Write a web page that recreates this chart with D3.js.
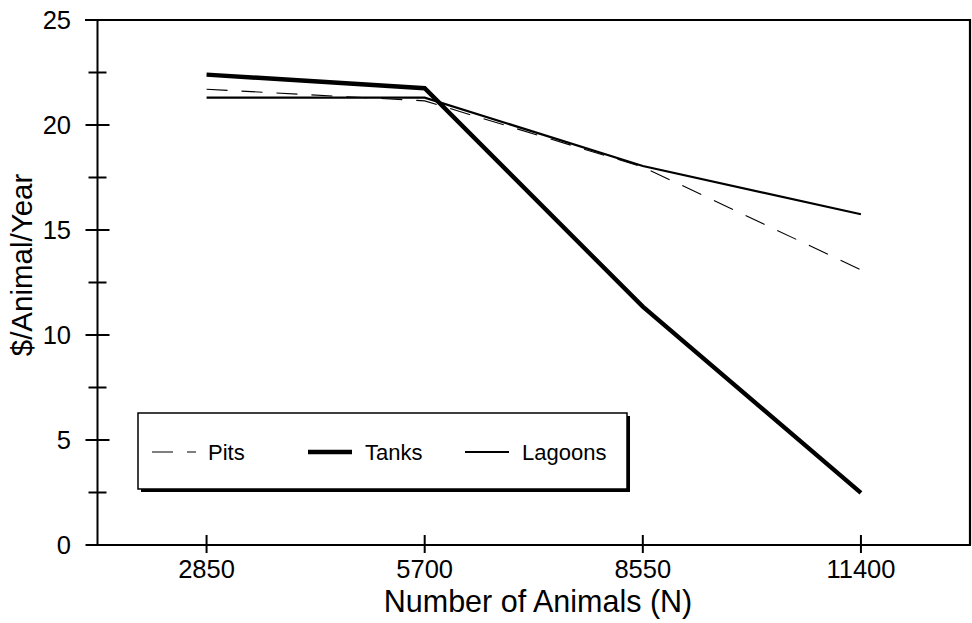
<!DOCTYPE html>
<html>
<head>
<meta charset="utf-8">
<script src="https://cdn.jsdelivr.net/npm/d3@7"></script>
<style>
  html, body { margin: 0; padding: 0; background: #fff; }
  svg { display: block; font-family: "Liberation Sans", Arial, Helvetica, sans-serif; }
</style>
</head>
<body>
<svg id="chart" width="972" height="623"></svg>
<script>
const categories = [2850, 5700, 8550, 11400];
const pits    = [21.7, 21.15, 18.0, 13.1];
const tanks   = [22.4, 21.75, 11.35, 2.48];
const lagoons = [21.3, 21.3, 18.05, 15.75];
const yMajorTicks = [0, 5, 10, 15, 20, 25];
const yMinorTicks = [2.5, 7.5, 12.5, 17.5, 22.5];
const xTickLabels = ["2850", "5700", "8550", "11400"];
const seriesNames = ["Pits", "Tanks", "Lagoons"];

(function () {
const svg = d3.select("#chart");
const pL = 97.5, pR = 970, pT = 20, pB = 545;

const x = d3.scaleLinear().domain([1425, 12825]).range([pL, pR]);
const y = d3.scaleLinear().domain([0, 25]).range([pB, pT]);

// frame
svg.append("line").attr("x1", pL).attr("x2", pL).attr("y1", pT).attr("y2", pB)
  .attr("stroke", "#000").attr("stroke-width", 2);
svg.append("line").attr("x1", 85).attr("x2", pR + 1).attr("y1", pT).attr("y2", pT)
  .attr("stroke", "#000").attr("stroke-width", 2.2);
svg.append("line").attr("x1", pR).attr("x2", pR).attr("y1", pT - 1).attr("y2", pB)
  .attr("stroke", "#000").attr("stroke-width", 2.2);
svg.append("line").attr("x1", 86).attr("x2", pR + 1).attr("y1", pB).attr("y2", pB)
  .attr("stroke", "#000").attr("stroke-width", 2);

// y ticks
svg.selectAll(".ymaj").data(yMajorTicks).enter().append("line")
  .attr("x1", pL - 12).attr("x2", pL + 12)
  .attr("y1", d => y(d)).attr("y2", d => y(d))
  .attr("stroke", "#000").attr("stroke-width", 2);
svg.selectAll(".ymin").data(yMinorTicks).enter().append("line")
  .attr("x1", pL - 9).attr("x2", pL + 9)
  .attr("y1", d => y(d)).attr("y2", d => y(d))
  .attr("stroke", "#000").attr("stroke-width", 2);
svg.selectAll(".ylab").data(yMajorTicks).enter().append("text")
  .attr("x", 71).attr("y", d => y(d) + 9)
  .attr("text-anchor", "end").attr("font-size", 25.5)
  .text(d => d);

// x ticks
svg.selectAll(".xt").data(categories).enter().append("line")
  .attr("x1", d => x(d)).attr("x2", d => x(d))
  .attr("y1", pB - 10).attr("y2", pB + 8)
  .attr("stroke", "#000").attr("stroke-width", 2);
svg.selectAll(".xlab").data(categories).enter().append("text")
  .attr("x", d => x(d)).attr("y", 578)
  .attr("text-anchor", "middle").attr("font-size", 25.5)
  .text((d, i) => xTickLabels[i]);

// axis titles
svg.append("text").attr("x", 538).attr("y", 612)
  .attr("text-anchor", "middle").attr("font-size", 30.5)
  .text("Number of Animals (N)");
svg.append("text").attr("transform", "translate(32,265) rotate(-90)")
  .attr("text-anchor", "middle").attr("font-size", 29.5)
  .text("$/Animal/Year");

// lines
const line = d3.line().x((d, i) => x(categories[i])).y(d => y(d));
const styles = {
  Pits:    { w: 1.1, dash: "21,14" },
  Tanks:   { w: 4.4, dash: null },
  Lagoons: { w: 2.2, dash: null }
};
const seriesData = { Pits: pits, Tanks: tanks, Lagoons: lagoons };
["Lagoons", "Pits", "Tanks"].forEach(name => {
  svg.append("path").datum(seriesData[name])
    .attr("d", line).attr("fill", "none").attr("stroke", "#000")
    .attr("stroke-width", styles[name].w)
    .attr("stroke-dasharray", styles[name].dash)
    .attr("stroke-linejoin", "miter");
});

// legend
const lg = { x: 138, y: 413, w: 489, h: 76 };
svg.append("rect").attr("x", lg.x + 3).attr("y", lg.y + 3).attr("width", lg.w).attr("height", lg.h).attr("fill", "#000");
svg.append("rect").attr("x", lg.x).attr("y", lg.y).attr("width", lg.w).attr("height", lg.h)
  .attr("fill", "#fff").attr("stroke", "#000").attr("stroke-width", 1.5);
const legendPos = [
  { lx: 152, tx: 208 },
  { lx: 308, tx: 365 },
  { lx: 465, tx: 522 }
];
const ly = 452;
seriesNames.forEach((name, i) => {
  svg.append("line").attr("x1", legendPos[i].lx).attr("x2", legendPos[i].lx + 44)
    .attr("y1", ly).attr("y2", ly).attr("stroke", "#000")
    .attr("stroke-width", styles[name].w).attr("stroke-dasharray", styles[name].dash);
  svg.append("text").attr("x", legendPos[i].tx).attr("y", ly + 8)
    .attr("font-size", 22).text(name);
});
})();
</script>
</body>
</html>
